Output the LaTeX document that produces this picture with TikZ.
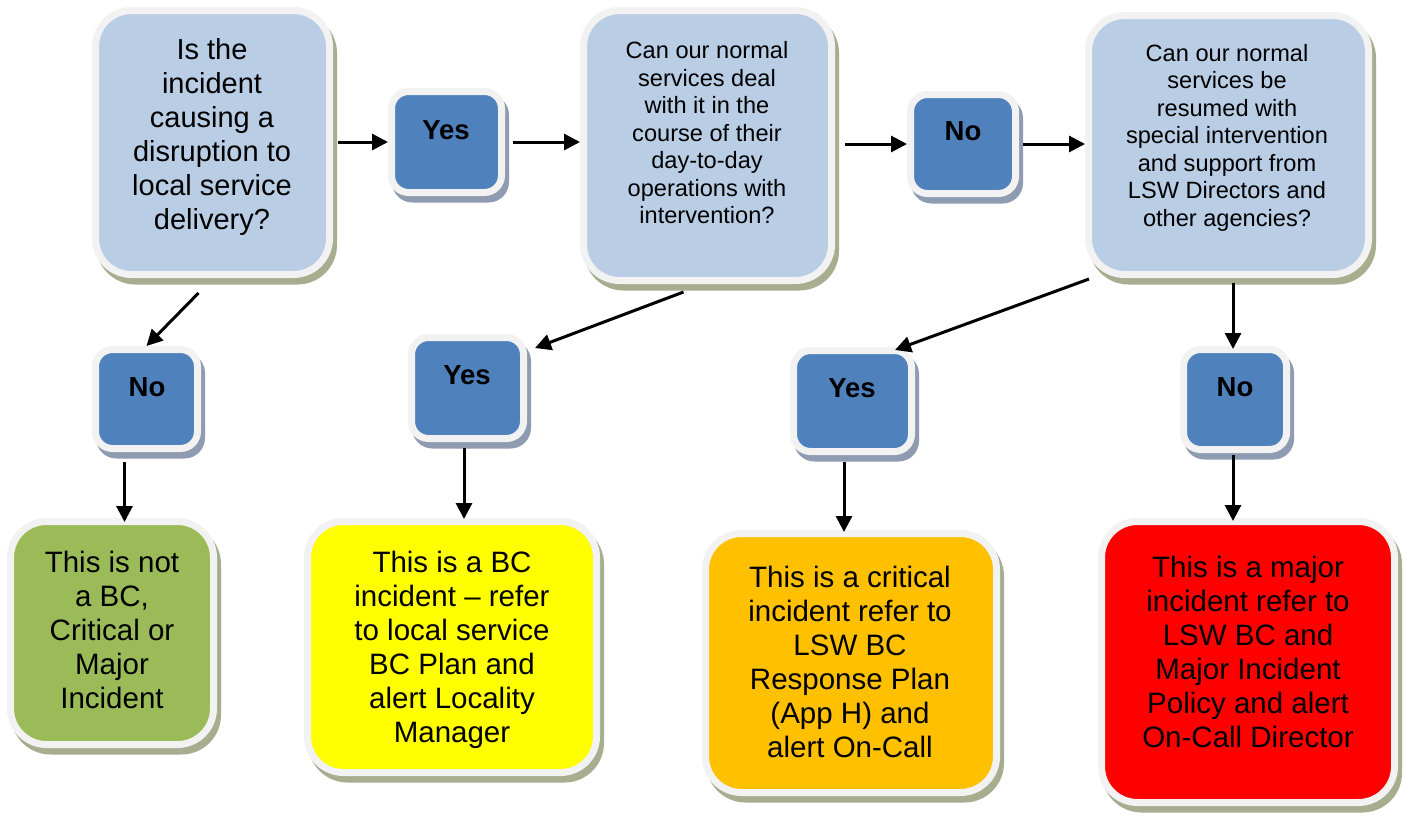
\documentclass[tikz,border=0pt]{standalone}
\usepackage{fontspec}
\setmainfont{Liberation Sans}
\usetikzlibrary{arrows.meta,calc}
\definecolor{qblue}{HTML}{B9CDE5}
\definecolor{dblue}{HTML}{4F81BD}
\definecolor{bord}{HTML}{F2F2F2}
\definecolor{shol}{HTML}{A7AE90}
\definecolor{shbl}{HTML}{8E9BB1}
\definecolor{gfill}{HTML}{9BBB59}
\definecolor{yfill}{HTML}{FFFF00}
\definecolor{ofill}{HTML}{FFC000}
\definecolor{rfill}{HTML}{FF0000}
\tikzset{
  boxbase/.style={draw=bord, line width=7pt, inner sep=0pt},
  bigbox/.style={boxbase, rounded corners=36pt,
    preaction={draw=shol, fill=shol, transform canvas={shift={(4pt,-6.5pt)}}}},
  smallbox/.style={boxbase, fill=dblue, rounded corners=17pt,
    preaction={draw=shbl, fill=shbl, transform canvas={shift={(4pt,-6.5pt)}}}},
  qtxt/.style={align=center, inner sep=0pt, font=\fontsize{23.6}{27.5}\selectfont},
  bigtxt/.style={align=center, inner sep=0pt, font=\fontsize{29.5}{34}\selectfont},
  yn/.style={inner sep=0pt, font=\fontsize{27.5}{32}\selectfont\bfseries},
  arr/.style={line width=3pt, -{Triangle[length=16pt,width=16pt]}}
}
\begin{document}
\begin{tikzpicture}[x=1pt,y=-1pt]
\useasboundingbox[fill=white] (0,0) rectangle (1405,814);

% top row
\node[bigbox, fill=qblue, minimum width=234pt, minimum height=264pt] (q1) at (212.5,142.5) {};
\node[bigtxt, font=\fontsize{29}{34}\selectfont] (q1t) at (212,137) {Is the\\incident\\causing a\\disruption to\\local service\\delivery?};

\node[smallbox, minimum width=110pt, minimum height=101pt] (yes1) at (446.5,142) {};
\node[yn] (yes1t) at (446,130) {Yes};

\node[bigbox, fill=qblue, minimum width=248pt, minimum height=270pt] (q2) at (707.5,145.5) {};
\node[qtxt] (q2t) at (707,133) {Can our normal\\services deal\\with it in the\\course of their\\day-to-day\\operations with\\intervention?};

\node[smallbox, minimum width=105pt, minimum height=99pt] (no1) at (963,144) {};
\node[yn] (no1t) at (963,131) {No};

\node[bigbox, fill=qblue, minimum width=280pt, minimum height=259pt] (q3) at (1228.5,145) {};
\node[qtxt] (q3t) at (1227,137.5) {Can our normal\\services be\\resumed with\\special intervention\\and support from\\LSW Directors and\\other agencies?};

% middle row
\node[smallbox, minimum width=102pt, minimum height=99pt] (no2) at (146.5,399) {};
\node[yn] (no2t) at (147,387) {No};

\node[smallbox, minimum width=112pt, minimum height=101pt] (yes2) at (467.5,388) {};
\node[yn] (yes2t) at (467,375) {Yes};

\node[smallbox, minimum width=118pt, minimum height=101pt] (yes3) at (852.5,401) {};
\node[yn] (yes3t) at (852,388) {Yes};

\node[smallbox, minimum width=103pt, minimum height=100pt] (no4) at (1235,399.5) {};
\node[yn] (no4t) at (1235,387) {No};

% bottom row
\node[bigbox, fill=gfill, minimum width=203pt, minimum height=223pt] (green) at (112,633) {};
\node[bigtxt] (greent) at (112,630) {This is not\\a BC,\\Critical or\\Major\\Incident};

\node[bigbox, fill=yfill, minimum width=289pt, minimum height=251pt] (yellow) at (452,647) {};
\node[bigtxt] (yellowt) at (452,650) {This is a BC\\incident -- refer\\to local service\\BC Plan and\\alert Locality\\Manager};

\node[bigbox, fill=ofill, minimum width=291pt, minimum height=259pt] (orange) at (851,663) {};
\node[bigtxt] (oranget) at (850,662) {This is a critical\\incident refer to\\LSW BC\\Response Plan\\(App H) and\\alert On-Call};

\node[bigbox, fill=rfill, minimum width=293pt, minimum height=281pt] (red) at (1248,662) {};
\node[bigtxt] (redt) at (1248,651.5) {This is a major\\incident refer to\\LSW BC and\\Major Incident\\Policy and alert\\On-Call Director};

% horizontal connectors
\draw[arr, shorten <=5pt] (q1.east |- yes1.west) -- (yes1.west);
\draw[arr, shorten <=8pt] (yes1.east) -- (q2.west |- yes1.east);
\draw[arr, shorten <=10pt] (q2.east |- no1.west) -- (no1.west);
\draw[arr, shorten <=4pt] (no1.east) -- (q3.west |- no1.east);

% diagonal connectors
\draw[arr] ([xshift=-14pt,yshift=-15pt]q1.south) -- (no2.north);
\draw[arr] ([xshift=-24pt,yshift=-8pt]q2.south) -- ([xshift=8pt,yshift=-14pt]yes2.north east);
\draw[arr] ([xshift=4pt,yshift=-1pt]q3.south west) -- ([xshift=-20pt,yshift=-3pt]yes3.north east);
\draw[arr, shorten <=5pt, shorten >=-3pt] ([xshift=-2pt]no4.north |- q3.south) -- ([xshift=-2pt]no4.north);

% vertical connectors down
\draw[arr, shorten <=10pt, shorten >=-4pt] ([xshift=-22pt]no2.south) -- ([xshift=-22pt]no2.south |- green.north);
\draw[arr, shorten <=6pt, shorten >=-1pt] ([xshift=-3.5pt]yes2.south) -- ([xshift=-3.5pt]yes2.south |- yellow.north);
\draw[arr, shorten <=7pt, shorten >=-2pt] ([xshift=-8.5pt]yes3.south) -- ([xshift=-8.5pt]yes3.south |- orange.north);
\draw[arr, shorten <=2pt, shorten >=-3pt] ([xshift=-2pt]no4.south) -- ([xshift=-2pt]no4.south |- red.north);
\end{tikzpicture}
\end{document}
